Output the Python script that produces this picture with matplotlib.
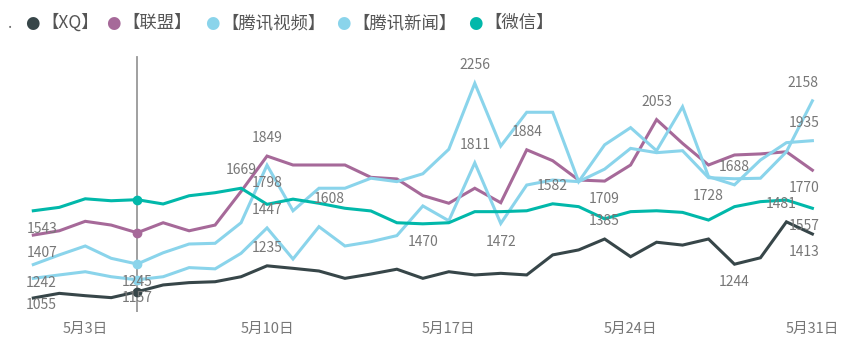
import numpy as np
import matplotlib.pyplot as plt

plt.rcParams['font.family'] = ['Noto Sans CJK SC', 'DejaVu Sans']

# 5月每日数据
days = list(range(1, 32))
tick_days = [3, 10, 17, 24, 31]
tick_labels = ['5月3日', '5月10日', '5月17日', '5月24日', '5月31日']

xq = [1055, 1081, 1068, 1057, 1090, 1128, 1141, 1146, 1174, 1235, 1221, 1206, 1165, 1189, 1216, 1165,
      1202, 1184, 1193, 1184, 1296, 1324, 1385, 1286, 1367, 1351, 1385, 1244, 1280, 1481, 1413]
lianmeng = [1407, 1431, 1484, 1463, 1420, 1476, 1431, 1463, 1651, 1849, 1799, 1799, 1799, 1730, 1721, 1628,
            1585, 1669, 1588, 1884, 1823, 1715, 1709, 1799, 2053, 1920, 1799, 1855, 1861, 1873, 1770]
shipin = [1242, 1296, 1346, 1277, 1245, 1308, 1357, 1361, 1476, 1798, 1543, 1669, 1669, 1725, 1706, 1750,
          1887, 2256, 1905, 2094, 2094, 1706, 1912, 2008, 1879, 2125, 1734, 1688, 1827, 1924, 1935]
xinwen = [1165, 1184, 1202, 1174, 1157, 1174, 1225, 1218, 1305, 1447, 1273, 1454, 1346, 1370, 1404, 1570,
          1487, 1811, 1472, 1687, 1715, 1706, 1776, 1892, 1868, 1879, 1728, 1722, 1725, 1873, 2158]
weixin = [1543, 1562, 1610, 1599, 1605, 1581, 1627, 1644, 1669, 1579, 1608, 1585, 1557, 1542, 1476, 1470,
          1476, 1538, 1538, 1543, 1582, 1566, 1498, 1538, 1543, 1534, 1491, 1566, 1594, 1603, 1557]

series = [
    ('【XQ】', xq, '#374649'),
    ('【联盟】', lianmeng, '#A66999'),
    ('【腾讯视频】', shipin, '#8AD4EB'),
    ('【腾讯新闻】', xinwen, '#8AD4EB'),
    ('【微信】', weixin, '#01B8AA'),
]

# 标注哪些点：(日, 上/下, 横向偏移)
labels = {
    '【XQ】': [(1, -1, 6), (10, 1, 0), (23, 1, 0), (28, -1, 0), (30, 1, -4), (31, -1, -6)],
    '【联盟】': [(1, -1, 6), (10, 1, 0), (20, 1, 0), (23, -1, 0), (25, 1, 0), (31, -1, -6)],
    '【腾讯视频】': [(1, -1, 6), (5, -1, 0), (10, -1, 0), (18, 1, 0), (28, 1, 0), (31, 1, -6)],
    '【腾讯新闻】': [(5, -1, 0), (10, 1, 0), (18, 1, 0), (19, -1, 0), (27, -1, 0), (31, 1, -7)],
    '【微信】': [(1, -1, 6), (9, 1, 0), (11, 0, 26), (16, -1, 0), (21, 1, 0), (31, -1, -6)],
}
hover_day = 5

W, H = 852, 346
fig = plt.figure(figsize=(W / 100, H / 100), dpi=100)
ax = fig.add_axes([20 / W, 34 / H, 810 / W, 262 / H])

for name, vals, color in series:
    ax.plot(days, vals, color=color, lw=2.2, solid_joinstyle='miter')
    ax.plot([hover_day], [vals[hover_day - 1]], 'o', color=color, markersize=6)
    for d, side, dx in labels[name]:
        v = vals[d - 1]
        dy = 13 * side
        if name == '【XQ】' and d == 1:
            dy = -5
        ax.annotate(str(v), (d, v), xytext=(dx, dy), textcoords='offset points',
                    ha='center', va='center', fontsize=10, color='#777777')

# 悬停竖线
ax.axvline(hover_day, ymin=0, ymax=(312 - 57) / 262, color='#999999', lw=1.3, zorder=0)

ax.set_xlim(0.488, 31.678)
ax.set_ylim(976.7, 2442.3)
ax.set_xticks(tick_days)
ax.set_xticklabels(tick_labels, fontsize=10.5, color='#777777')
ax.tick_params(axis='x', length=0, pad=7)
ax.set_yticks([])
for s in ax.spines.values():
    s.set_visible(False)

# 图例（手动排布）
legend_y = 1 - 23 / H
fig.text(8 / W, legend_y, '.', fontsize=11, color='#666666', va='center')
legend_x = [32, 113, 212, 343, 475]
for (name, _, color), lx in zip(series, legend_x):
    fig.text(lx / W, legend_y, '●', fontsize=12, color=color, ha='center', va='center',
             family='DejaVu Sans')
    fig.text((lx + 9) / W, legend_y, name, fontsize=12.5, color='#555555', va='center')

fig.savefig('out.png', dpi=100, facecolor='white')
